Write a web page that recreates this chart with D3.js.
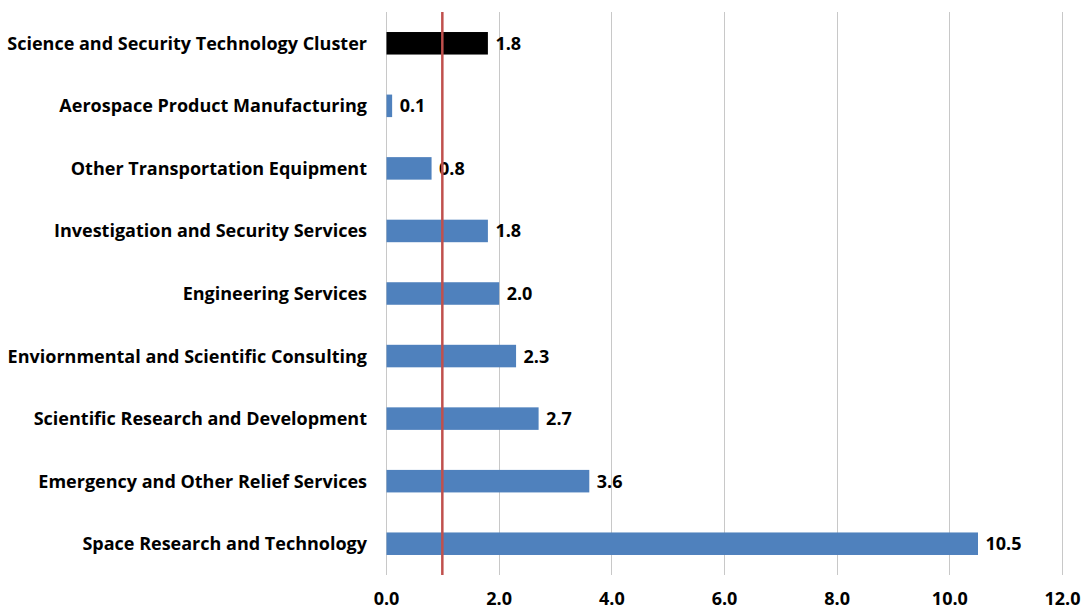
<!DOCTYPE html>
<html>
<head>
<meta charset="utf-8">
<script src="https://cdn.jsdelivr.net/npm/d3@7"></script>
<style>
  html, body { margin: 0; padding: 0; background: #fff; }
  svg { display: block; }
  text { font-family: "Open Sans", Lato, "Liberation Sans", sans-serif; font-weight: bold; fill: #000; }
</style>
</head>
<body>
<svg id="chart" width="1086" height="611"></svg>
<script>
// Location quotient by industry, top to bottom
const categories = [
  "Science and Security Technology Cluster",
  "Aerospace Product Manufacturing",
  "Other Transportation Equipment",
  "Investigation and Security Services",
  "Engineering Services",
  "Enviornmental and Scientific Consulting",
  "Scientific Research and Development",
  "Emergency and Other Relief Services",
  "Space Research and Technology"
];
const values = [1.8, 0.1, 0.8, 1.8, 2.0, 2.3, 2.7, 3.6, 10.5];
const highlighted = ["Science and Security Technology Cluster"];
const xTicks = [0, 2, 4, 6, 8, 10, 12];
const referenceValue = 1.0;

const svg = d3.select("#chart");
const margin = { top: 12, right: 24, bottom: 36, left: 386 };
const height = 611 - margin.top - margin.bottom;
const fontSize = 18;

const g = svg.append("g").attr("transform", `translate(${margin.left},${margin.top})`);

const x = d3.scaleLinear().domain([0, 12]).range([0, 676]);
const y = d3.scaleBand().domain(categories).range([0, height]).paddingInner(0.64).paddingOuter(0.32);

// vertical gridlines
g.append("g").selectAll("line").data(xTicks).join("line")
  .attr("x1", d => Math.round(x(d)) + 0.5).attr("x2", d => Math.round(x(d)) + 0.5)
  .attr("y1", 0).attr("y2", height)
  .attr("stroke", "#c8c8c8").attr("stroke-width", 1);

// bars
const rows = categories.map((c, i) => ({ c, v: values[i] }));
g.append("g").selectAll("rect").data(rows).join("rect")
  .attr("x", x(0) + 0.5)
  .attr("y", d => y(d.c))
  .attr("width", d => x(d.v) - x(0))
  .attr("height", y.bandwidth())
  .attr("fill", d => highlighted.includes(d.c) ? "#000000" : "#4f81bd");

// value labels
g.append("g").selectAll("text").data(rows).join("text")
  .attr("x", d => x(d.v) + 8)
  .attr("y", d => y(d.c) + y.bandwidth() / 2)
  .attr("dy", "0.36em")
  .attr("font-size", fontSize)
  .text(d => d3.format(".1f")(d.v));

// reference line at 1.0
g.append("line")
  .attr("x1", x(referenceValue)).attr("x2", x(referenceValue))
  .attr("y1", 0).attr("y2", height)
  .attr("stroke", "#c0504d").attr("stroke-width", 2.5);

// category axis labels
g.append("g").selectAll("text").data(categories).join("text")
  .attr("x", -19)
  .attr("y", d => y(d) + y.bandwidth() / 2)
  .attr("dy", "0.36em")
  .attr("text-anchor", "end")
  .attr("font-size", fontSize)
  .text(d => d);

// value axis
const xAxis = d3.axisBottom(x).tickValues(xTicks).tickFormat(d3.format(".1f")).tickSize(0).tickPadding(17);
const ax = g.append("g").attr("transform", `translate(0,${height})`).call(xAxis);
ax.select(".domain").remove();
ax.selectAll("text").attr("font-size", fontSize).attr("font-family", null).attr("fill", "#000");
</script>
</body>
</html>
